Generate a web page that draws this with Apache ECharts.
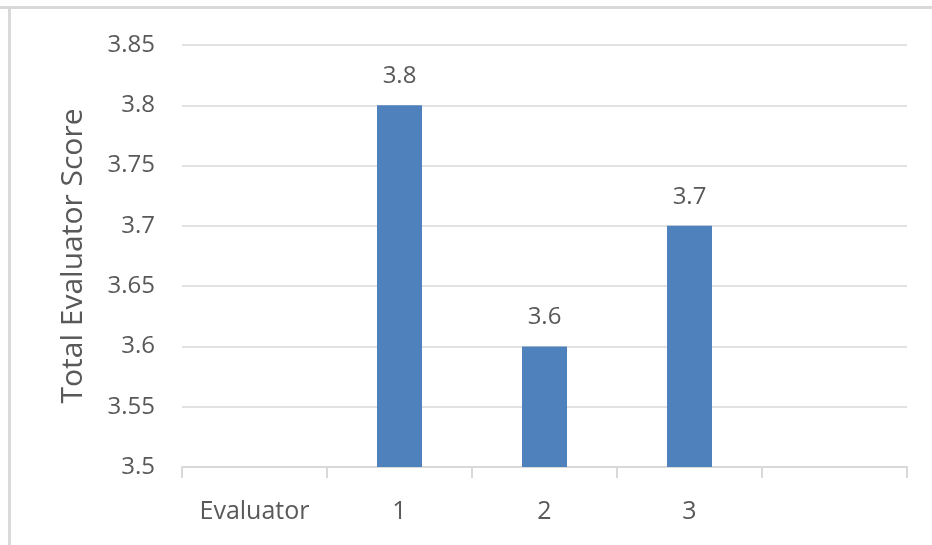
<!DOCTYPE html>
<html>
<head>
<meta charset="utf-8">
<script src="https://cdn.jsdelivr.net/npm/echarts@6/dist/echarts.min.js"></script>
<style>
  html, body { margin: 0; padding: 0; background: #fff; }
  #chart { width: 932px; height: 545px; }
</style>
</head>
<body>
<div id="chart"></div>
<script>
// Evaluator scores
const categories = ['Evaluator', '1', '2', '3', ''];
const scores = [null, 3.8, 3.6, 3.7, null];
const yMin = 3.5;
const yMax = 3.85;
const yStep = 0.05;

const FONT = '"Open Sans", sans-serif';
const TEXT = '#595959';
const GRID_LINE = '#d9d9d9';

const chart = echarts.init(document.getElementById('chart'), null, { renderer: 'canvas' });

chart.setOption({
  backgroundColor: '#ffffff',
  animation: false,
  graphic: [
    // frame edges along the top and left
    { type: 'line', shape: { x1: 0, y1: 7.5, x2: 932, y2: 7.5 }, style: { stroke: '#d9d9d9', lineWidth: 3 } },
    { type: 'line', shape: { x1: 9.5, y1: 6, x2: 9.5, y2: 545 }, style: { stroke: '#d9d9d9', lineWidth: 3 } }
  ],
  grid: { left: 182, right: 25, top: 45, bottom: 78 },
  xAxis: {
    type: 'category',
    data: categories,
    boundaryGap: true,
    axisLine: { lineStyle: { color: GRID_LINE, width: 2 } },
    axisTick: { show: true, alignWithLabel: false, length: 11, lineStyle: { color: GRID_LINE, width: 2 } },
    axisLabel: { color: TEXT, fontFamily: FONT, fontSize: 25, margin: 32, interval: 0 }
  },
  yAxis: {
    type: 'value',
    min: yMin,
    max: yMax,
    interval: yStep,
    name: 'Total Evaluator Score',
    nameLocation: 'middle',
    nameGap: 94,
    nameTextStyle: { color: TEXT, fontFamily: FONT, fontSize: 30 },
    axisLine: { show: false },
    axisTick: { show: false },
    axisLabel: {
      color: TEXT, fontFamily: FONT, fontSize: 24, margin: 27,
      formatter: v => String(parseFloat(v.toFixed(2)))
    },
    splitLine: { lineStyle: { color: GRID_LINE, width: 1.5 } }
  },
  series: [{
    type: 'bar',
    data: scores,
    barWidth: 45,
    itemStyle: { color: '#4f81bd' },
    label: {
      show: true,
      position: 'top',
      distance: 17,
      color: TEXT,
      fontFamily: FONT,
      fontSize: 24,
      formatter: p => p.value == null ? '' : String(p.value)
    }
  }]
});
</script>
</body>
</html>
